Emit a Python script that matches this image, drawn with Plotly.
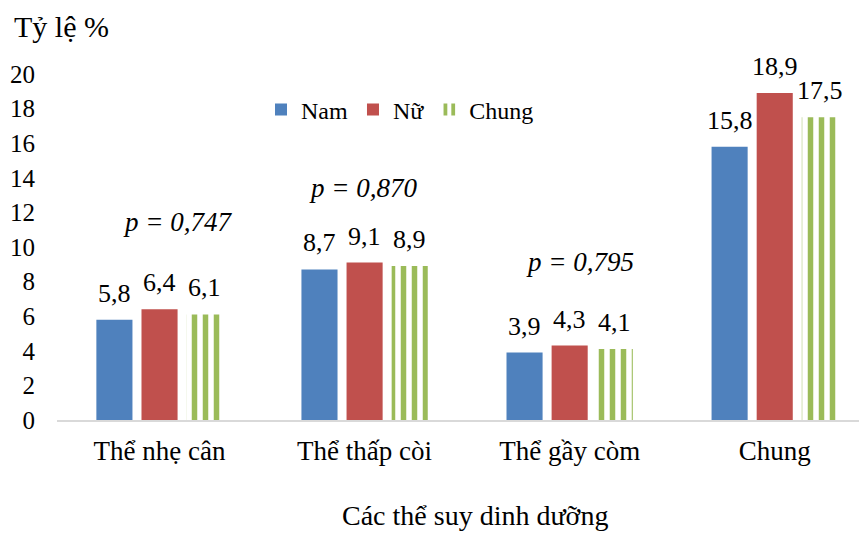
import plotly.graph_objects as go

categories = ["Thể nhẹ cân", "Thể thấp còi", "Thể gầy còm", "Chung"]
nam = [5.8, 8.7, 3.9, 15.8]
nu = [6.4, 9.1, 4.3, 18.9]
chung = [6.1, 8.9, 4.1, 17.5]
p_labels = ["p = 0,747", "p = 0,870", "p = 0,795", "p = 0,656"]
p_x = [0.09, 0.99, 2.05, 3.05]
p_y = [11.45, 13.4, 9.13, 22.8]

FONT = "Liberation Serif, Times New Roman, serif"
OFF = 8  # page body margin offset

def fmt(v):
    return f"{v:.1f}".replace(".", ",")

W, H = 867 - OFF, 536 - OFF
L, R, T, B = 57 - OFF, 0, 74 - OFF, 116
pw, ph = W - L - R, H - T - B

def px_x(p):  # page pixel -> paper
    return (p - OFF - L) / pw

def px_y(p):
    return (H - B - (p - OFF)) / ph

BARGAP = 0.34
series = [("Nam", nam, "#4f81bd"), ("Nữ", nu, "#c0504d"), ("Chung", chung, "#9bbb59")]

fig = go.Figure()
for i, (name, vals, col) in enumerate(series):
    if name == "Chung":
        marker = dict(color="white", line=dict(width=0),
                      pattern=dict(shape="|", fgcolor=col, bgcolor="white",
                                   size=11, solidity=0.5, fillmode="replace"))
    else:
        marker = dict(color=col, line=dict(width=0))
    fig.add_bar(name=name, x=categories, y=vals, marker=marker)
    slot = (1 - BARGAP) / len(series)
    for k, v in enumerate(vals):
        fig.add_annotation(x=k + (i - 1) * slot, y=v, xref="x", yref="y",
                           text=fmt(v), showarrow=False, yanchor="bottom", yshift=10,
                           font=dict(family=FONT, size=26, color="black"))

for t, x, y in zip(p_labels, p_x, p_y):
    fig.add_annotation(x=x, y=y, xref="x", yref="y", text=f"<i>{t}</i>",
                       showarrow=False, font=dict(family=FONT, size=27, color="black"))

fig.add_annotation(x=px_x(12), y=px_y(26), xref="paper", yref="paper", text="Tỷ lệ %",
                   showarrow=False, xanchor="left", yanchor="middle",
                   font=dict(family=FONT, size=30, color="black"))
fig.add_annotation(x=px_x(475), y=px_y(516), xref="paper", yref="paper",
                   text="Các thể suy dinh dưỡng",
                   showarrow=False, xanchor="center", yanchor="middle",
                   font=dict(family=FONT, size=28, color="black"))

fig.update_layout(
    width=W, height=H,
    margin=dict(l=L, r=R, t=T, b=B, autoexpand=False),
    paper_bgcolor="white", plot_bgcolor="white",
    barmode="group", bargap=BARGAP, bargroupgap=0.2,
    font=dict(family=FONT, size=26, color="black"),
    showlegend=True,
    legend=dict(orientation="h", x=px_x(261), y=px_y(110),
                xanchor="left", yanchor="middle", font=dict(family=FONT, size=24),
                bgcolor="rgba(0,0,0,0)", itemwidth=30, traceorder="normal"),
    xaxis=dict(range=[-0.5, 3.45], showline=True, linecolor="#d9d9d9", linewidth=2,
               ticks="", showgrid=False, tickfont=dict(family=FONT, size=27),
               ticklabelstandoff=6, fixedrange=True),
    yaxis=dict(range=[0, 20], dtick=2, showline=False, showgrid=False, zeroline=False,
               ticks="", tickfont=dict(family=FONT, size=25), ticklabelstandoff=21,
               fixedrange=True),
)

fig.write_html("out.html")
